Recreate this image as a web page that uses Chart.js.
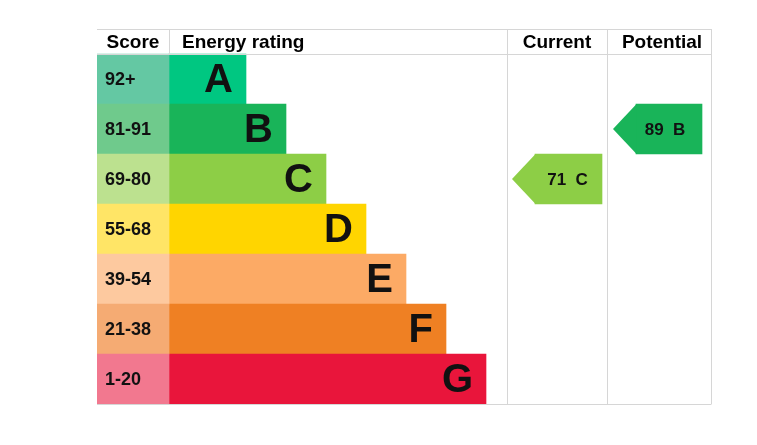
<!DOCTYPE html>
<html>
<head>
<meta charset="utf-8">
<script src="https://cdn.jsdelivr.net/npm/chart.js@4/dist/chart.umd.min.js"></script>
<style>
html,body{margin:0;padding:0;background:#fff;}
canvas{display:block;}
</style>
</head>
<body>
<canvas id="canvas" width="757" height="445"></canvas>
<script>
var bands=["A","B","C","D","E","F","G"];
var scoreLabels=["92+","81-91","69-80","55-68","39-54","21-38","1-20"];
var bandMin=[92,81,69,55,39,21,1];
var barLength=[77,117,157,197,237,277,317];
var bandColors=["#00c781","#19b459","#8dce46","#ffd500","#fcaa65","#ef8023","#e9153b"];
var scoreColors=["#64c8a3","#6fca8c","#bce18f","#ffe566","#fdc99f","#f5ab73","#f2788f"];
var headers=["Score","Energy rating","Current","Potential"];
var currentScore=71;
var potentialScore=89;

// column layout, in x-scale units
var scoreW=72;
var curCol=[410,510];
var potCol=[510,614];
var tipW=23;
var FONT="'Liberation Sans', Arial, sans-serif";

function bandOf(score){
  for(var i=0;i<bandMin.length;i++){ if(score>=bandMin[i]) return i; }
  return bandMin.length-1;
}
var curBand=bandOf(currentScore);
var potBand=bandOf(potentialScore);

var tablePlugin={
  id:"epcTable",
  afterDatasetsDraw:function(chart){
    var ctx=chart.ctx, xs=chart.scales.x, ys=chart.scales.y;
    var top=ys.getPixelForValue(0), head=ys.getPixelForValue(0.5), bot=ys.getPixelForValue(7.5);
    var left=xs.getPixelForValue(0), right=xs.getPixelForValue(potCol[1]);
    ctx.save();

    // arrow tips
    [2,3].forEach(function(di){
      var el=chart.getDatasetMeta(di).data[0];
      var h=el.height/2;
      ctx.fillStyle=chart.data.datasets[di].backgroundColor;
      ctx.beginPath();
      ctx.moveTo(el.base+0.5,el.y-h);
      ctx.lineTo(el.base-tipW,el.y);
      ctx.lineTo(el.base+0.5,el.y+h);
      ctx.closePath();
      ctx.fill();
    });

    // grid lines
    ctx.strokeStyle="#d6d6d6";
    ctx.lineWidth=1;
    ctx.beginPath();
    [top,head,bot].forEach(function(y){
      ctx.moveTo(left,Math.round(y)+0.5); ctx.lineTo(right,Math.round(y)+0.5);
    });
    var xh=Math.round(xs.getPixelForValue(scoreW))+0.5;
    ctx.moveTo(xh,top); ctx.lineTo(xh,head);
    [curCol[0],potCol[0],potCol[1]].forEach(function(v){
      var x=Math.round(xs.getPixelForValue(v))+0.5;
      ctx.moveTo(x,top); ctx.lineTo(x,bot+0.5);
    });
    ctx.stroke();

    // headers
    ctx.fillStyle="#000";
    ctx.textBaseline="middle";
    ctx.font="bold 19px "+FONT;
    var hy=ys.getPixelForValue(0.25)+1;
    ctx.textAlign="center";
    ctx.fillText(headers[0],(left+xs.getPixelForValue(scoreW))/2,hy);
    ctx.textAlign="left";
    ctx.fillText(headers[1],xs.getPixelForValue(scoreW)+13,hy);
    ctx.textAlign="center";
    ctx.fillText(headers[2],(xs.getPixelForValue(curCol[0])+xs.getPixelForValue(curCol[1]))/2,hy);
    ctx.fillText(headers[3],(xs.getPixelForValue(potCol[0])+xs.getPixelForValue(potCol[1]))/2+3,hy);

    // score labels and band letters
    var scoreMeta=chart.getDatasetMeta(0).data;
    var bandMeta=chart.getDatasetMeta(1).data;
    ctx.fillStyle="#111";
    ctx.font="bold 18px "+FONT;
    ctx.textAlign="left";
    scoreMeta.forEach(function(el,i){ ctx.fillText(scoreLabels[i],el.base+8,el.y+1); });
    ctx.font="bold 40px "+FONT;
    ctx.textAlign="right";
    bandMeta.forEach(function(el,i){ ctx.fillText(bands[i],el.x-13,el.y+2); });

    // arrow texts
    ctx.font="bold 17px "+FONT;
    ctx.textAlign="center";
    var cur=chart.getDatasetMeta(2).data[0];
    ctx.fillText(currentScore+"  "+bands[curBand],(cur.base+cur.x)/2-1,cur.y+1);
    var pot=chart.getDatasetMeta(3).data[0];
    ctx.fillText(potentialScore+"  "+bands[potBand],(pot.base+pot.x)/2-4,pot.y+1);
    ctx.restore();
  }
};

var barOpts={grouped:false,barPercentage:1,categoryPercentage:1,borderWidth:0,borderSkipped:false};

var config={
  type:"bar",
  data:{
    datasets:[
      Object.assign({label:"Score",data:bands.map(function(b,i){return {x:[0,scoreW],y:i+1};}),backgroundColor:scoreColors},barOpts),
      Object.assign({label:"Energy rating",data:barLength.map(function(w,i){return {x:[scoreW,scoreW+w],y:i+1};}),backgroundColor:bandColors},barOpts),
      Object.assign({label:"Current",data:[{x:[curCol[0]+28,curCol[1]-5],y:curBand+1}],backgroundColor:bandColors[curBand]},barOpts),
      Object.assign({label:"Potential",data:[{x:[potCol[0]+29,potCol[1]-9],y:potBand+1}],backgroundColor:bandColors[potBand]},barOpts)
    ]
  },
  options:{
    indexAxis:"y",
    responsive:false,
    animation:false,
    layout:{padding:{left:97,right:46,top:29,bottom:41}},
    scales:{
      x:{type:"linear",min:0,max:potCol[1],display:false},
      y:{type:"linear",min:0,max:7.5,reverse:true,offset:false,display:false,
         afterBuildTicks:function(s){ s.ticks=bands.map(function(b,i){return {value:i+1};}); }}
    },
    plugins:{legend:{display:false},tooltip:{enabled:false}}
  },
  plugins:[tablePlugin]
};

window.onload=function(){
  var ctx=document.getElementById("canvas").getContext("2d");
  window.graph1=new Chart(ctx,config);
};
</script>
</body>
</html>
